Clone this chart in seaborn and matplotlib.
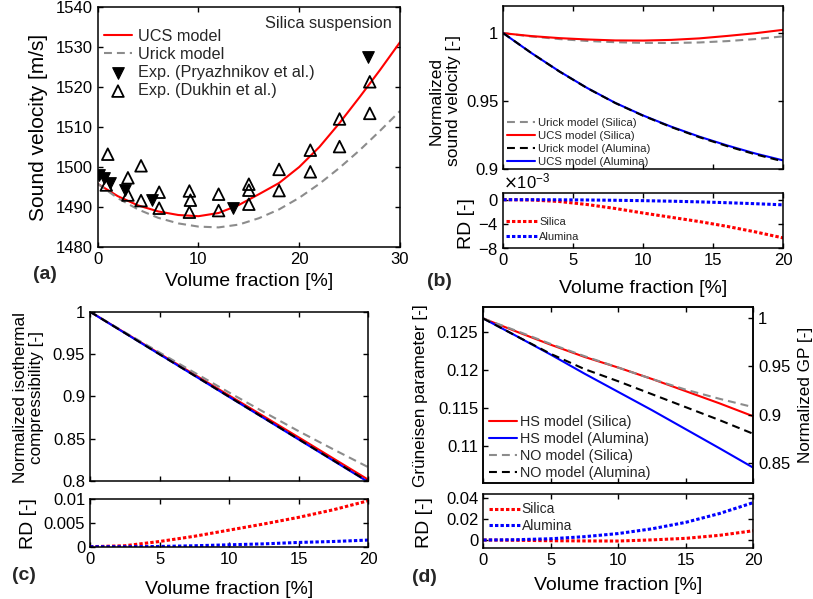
import numpy as np
import matplotlib.pyplot as plt
import matplotlib.ticker as ticker
import seaborn as sns

# ---- (a) sound velocity, silica suspension ----
phi_a = [0, 2, 4, 6, 8, 10, 12, 14, 16, 18, 20, 22, 24, 26, 28, 30]
ucs_a = [1495.8, 1492.7, 1490.4, 1488.9, 1488.0, 1487.7, 1488.5, 1490.5, 1493.2,
         1496.0, 1500.0, 1505.0, 1511.0, 1517.5, 1524.2, 1531.2]
urick_a = [1495.8, 1492.2, 1489.4, 1487.3, 1485.9, 1485.1, 1484.9, 1485.6, 1487.2,
           1489.4, 1492.3, 1495.8, 1499.8, 1504.2, 1509.0, 1514.0]
pry_phi = [0.1, 0.65, 1.2, 2.7, 5.35, 13.45, 26.85]
pry_c = [1498.0, 1497.2, 1496.1, 1494.2, 1491.7, 1489.7, 1527.6]
duk_phi = [1.0, 0.85, 3.0, 3.0, 4.3, 4.3, 6.1, 6.1, 9.1, 9.2, 9.1, 12.0, 12.0,
           15.0, 15.0, 15.0, 18.0, 18.0, 21.1, 21.1, 24.0, 24.0, 27.0, 27.0]
duk_c = [1503.2, 1495.5, 1497.3, 1493.0, 1500.3, 1491.6, 1493.7, 1489.7, 1494.0,
         1491.7, 1488.7, 1493.2, 1489.1, 1495.7, 1494.2, 1490.7, 1499.4, 1494.1,
         1504.2, 1498.8, 1512.0, 1505.1, 1521.3, 1513.4]

# ---- (b) normalized sound velocity ----
phi_b = [0, 2, 4, 6, 8, 10, 12, 14, 16, 18, 20]
urick_si_b = [1.0, 0.9976, 0.9957, 0.9943, 0.9934, 0.9929, 0.9928, 0.9932, 0.9942, 0.9957, 0.9977]
ucs_si_b = [1.0, 0.9979, 0.9964, 0.9954, 0.9947, 0.9946, 0.9951, 0.9962, 0.9980, 1.0000, 1.0025]
urick_al_b = [1.0, 0.9855, 0.9719, 0.9596, 0.9487, 0.9393, 0.9310, 0.9236, 0.9170, 0.9110, 0.9058]
ucs_al_b = [1.0, 0.9855, 0.9720, 0.9597, 0.9488, 0.9395, 0.9313, 0.9240, 0.9175, 0.9116, 0.9065]
rd_si_b = [0.0, -0.05, -0.3, -0.8, -1.45, -2.2, -2.9, -3.6, -4.4, -5.3, -6.3]   # x1e-3
rd_al_b = [0.0, 0.0, -0.02, -0.05, -0.1, -0.16, -0.25, -0.36, -0.5, -0.66, -0.85]

# ---- (c) normalized isothermal compressibility ----
phi_c = [0, 2.5, 5, 7.5, 10, 12.5, 15, 17.5, 20]
ucs_si_c = [1.0, 0.9752, 0.9505, 0.9258, 0.9010, 0.8763, 0.8515, 0.8265, 0.8015]
urick_si_c = [1.0, 0.9757, 0.9518, 0.9281, 0.9045, 0.8814, 0.8588, 0.8373, 0.8163]
ucs_al_c = [1.0, 0.9748, 0.9496, 0.9245, 0.8993, 0.8742, 0.8490, 0.8239, 0.7987]
urick_al_c = [1.0, 0.9749, 0.9497, 0.9246, 0.8995, 0.8744, 0.8493, 0.8242, 0.7991]
rd_si_c = [0.0, 0.0002, 0.0011, 0.0022, 0.0035, 0.0048, 0.0062, 0.0078, 0.0097]
rd_al_c = [0.0, 0.0, 0.00005, 0.0002, 0.0004, 0.0006, 0.0009, 0.0011, 0.0014]

# ---- (d) Grueneisen parameter ----
phi_d = [0, 2.5, 5, 7.5, 10, 12.5, 15, 17.5, 20]
hs_si_d = [0.12675, 0.1250, 0.1233, 0.1217, 0.1203, 0.1188, 0.1172, 0.1156, 0.1139]
hs_al_d = [0.12675, 0.1244, 0.1220, 0.1195, 0.1171, 0.1147, 0.1122, 0.1097, 0.10715]
no_si_d = [0.12675, 0.1251, 0.1234, 0.1218, 0.1203, 0.1188, 0.1174, 0.1162, 0.1151]
no_al_d = [0.12675, 0.1244, 0.1221, 0.1201, 0.1185, 0.1168, 0.1151, 0.1134, 0.1116]
gp0 = 0.1268
rd_si_d = [0.0, -0.0003, -0.0007, -0.0009, -0.001, 0.0001, 0.0016, 0.0045, 0.0089]
rd_al_d = [0.0, 0.0003, 0.0012, 0.0032, 0.0062, 0.0108, 0.017, 0.0255, 0.036]

sns.set_theme(style='ticks')
plt.rcParams['font.family'] = ['Liberation Sans', 'DejaVu Sans']
plt.rcParams.update({
    'xtick.direction': 'in', 'ytick.direction': 'in',
    'xtick.top': True, 'ytick.right': True,
    'xtick.major.size': 3.5, 'ytick.major.size': 3.5,
    'xtick.major.width': 1.0, 'ytick.major.width': 1.0,
    'xtick.labelsize': 12, 'ytick.labelsize': 12,
    'axes.linewidth': 1.1, 'axes.labelsize': 14,
    'axes.unicode_minus': False,
    'xtick.color': 'black', 'ytick.color': 'black',
    'axes.edgecolor': 'black', 'axes.labelcolor': 'black',
})

W, H = 813, 599
fig = plt.figure(figsize=(W / 100, H / 100), dpi=100)


def box(l, r, t, b):
    return fig.add_axes([l / W, 1 - b / H, (r - l) / W, (b - t) / H])


DASH = (0, (3.8, 2.4))
DOT = (0, (1.1, 0.7))
fmt_g = ticker.FuncFormatter(lambda v, p: '%g' % round(v, 6))


def line(ax, x, y, color, ls='-', lw=1.5, label=None):
    sns.lineplot(x=x, y=y, ax=ax, color=color, linestyle=ls, linewidth=lw,
                 label=label, errorbar=None, legend=False)


def dots(ax, x, y, color, label=None):
    sns.lineplot(x=x, y=y, ax=ax, color=color, linestyle=DOT, linewidth=2.2,
                 label=label, errorbar=None, legend=False)


# ---------------- (a) ----------------
ax = box(97.7, 400, 7, 247)
line(ax, phi_a, ucs_a, 'red', label='UCS model')
line(ax, phi_a, urick_a, '#8c8c8c', ls=DASH, label='Urick model')
sns.scatterplot(x=pry_phi, y=pry_c, ax=ax, marker='v', s=70, color='black',
                edgecolor='black', linewidth=0.8, label='Exp. (Pryazhnikov et al.)', zorder=3)
sns.scatterplot(x=duk_phi, y=duk_c, ax=ax, marker='^', s=70, facecolor='none',
                edgecolor='black', linewidth=1.3, label='Exp. (Dukhin et al.)', zorder=3)
ax.set_xlim(0, 30)
ax.set_ylim(1480, 1540)
ax.set_xticks([0, 10, 20, 30])
ax.set_yticks(range(1480, 1541, 10))
ax.set_xlabel('Volume fraction [%]')
ax.set_ylabel('Sound velocity [m/s]', fontsize=15)
ax.yaxis.set_label_coords(-0.164, 0.5)
ax.xaxis.set_label_coords(0.5, -0.11)
ax.legend(loc='upper left', bbox_to_anchor=(0.02, 0.91), frameon=False, fontsize=11.7,
          handlelength=1.75, handletextpad=0.35, labelspacing=0.2, borderpad=0, borderaxespad=0)
ax.text(0.973, 0.93, 'Silica suspension', transform=ax.transAxes, ha='right', va='center',
        fontsize=11.8)

# ---------------- (b) ----------------
ax = box(503.3, 783.3, 6, 169.3)
line(ax, phi_b, urick_si_b, '#8c8c8c', ls=DASH, label='Urick model (Silica)')
line(ax, phi_b, ucs_si_b, 'red', label='UCS model (Silica)')
line(ax, phi_b, ucs_al_b, 'blue', label='UCS model (Alumina)')
line(ax, phi_b, urick_al_b, 'black', ls=DASH, label='Urick model (Alumina)')
ax.set_xlim(0, 20)
ax.set_ylim(0.9, 1.02)
ax.set_xticks([0, 5, 10, 15, 20])
ax.set_yticks([0.9, 0.95, 1.0])
ax.yaxis.set_major_formatter(fmt_g)
ax.tick_params(labelbottom=False)
ax.set_ylabel('Normalized\nsound velocity [-]', fontsize=12.5, linespacing=1.2)
ax.yaxis.set_label_coords(-0.152, 0.42)
h, l = ax.get_legend_handles_labels()
order = [0, 1, 3, 2]
ax.legend([h[i] for i in order], [l[i] for i in order], loc='lower left',
          bbox_to_anchor=(0.012, 0.015), frameon=False, fontsize=8.2, handlelength=2.5,
          handletextpad=0.27, labelspacing=0.25, borderpad=0, borderaxespad=0)

ax = box(503.3, 783.3, 193, 248.3)
dots(ax, phi_b, np.array(rd_si_b) * 1e-3, 'red', label='Silica')
dots(ax, phi_b, np.array(rd_al_b) * 1e-3, 'blue', label='Alumina')
ax.set_xlim(0, 20)
ax.set_ylim(-8e-3, 1.1e-3)
ax.set_xticks([0, 5, 10, 15, 20])
ax.set_yticks([-8e-3, -4e-3, 0])
ax.ticklabel_format(style='sci', axis='y', scilimits=(0, 0), useMathText=True)
ax.yaxis.get_offset_text().set_fontsize(12)
ax.set_xlabel('Volume fraction [%]')
ax.set_ylabel('RD [-]')
ax.yaxis.set_label_coords(-0.101, 0.44)
ax.xaxis.set_label_coords(0.5, -0.57)
ax.legend(loc='upper left', bbox_to_anchor=(0.01, 0.56), frameon=False, fontsize=8,
          handlelength=2.8, handletextpad=0.2, labelspacing=0.4, borderpad=0, borderaxespad=0)

# ---------------- (c) ----------------
ax = box(90, 368.3, 311.7, 481)
line(ax, phi_c, ucs_si_c, 'red')
line(ax, phi_c, urick_si_c, '#8c8c8c', ls=DASH)
line(ax, phi_c, ucs_al_c, 'blue')
line(ax, phi_c, urick_al_c, 'black', ls=DASH)
ax.set_xlim(0, 20)
ax.set_ylim(0.8, 1.0)
ax.set_xticks([0, 5, 10, 15, 20])
ax.set_yticks([0.8, 0.85, 0.9, 0.95, 1.0])
ax.yaxis.set_major_formatter(fmt_g)
ax.tick_params(labelbottom=False)
ax.set_ylabel('Normalized isothermal\ncompressibility [-]', fontsize=12.3, linespacing=1.1)
ax.yaxis.set_label_coords(-0.165, 0.493)

ax = box(90, 368.3, 499.3, 546.7)
dots(ax, phi_c, rd_si_c, 'red')
dots(ax, phi_c, rd_al_c, 'blue')
ax.set_xlim(0, 20)
ax.set_ylim(0, 0.01)
ax.set_xticks([0, 5, 10, 15, 20])
ax.set_yticks([0, 0.005, 0.01])
ax.yaxis.set_major_formatter(fmt_g)
ax.set_xlabel('Volume fraction [%]')
ax.set_ylabel('RD [-]')
ax.yaxis.set_label_coords(-0.19, 0.49)
ax.xaxis.set_label_coords(0.5, -0.72)

# ---------------- (d) ----------------
ax = box(483.3, 753.3, 306.7, 483.3)
line(ax, phi_d, hs_si_d, 'red', label='HS model (Silica)')
line(ax, phi_d, hs_al_d, 'blue', label='HS model (Alumina)')
line(ax, phi_d, no_si_d, '#8c8c8c', ls=DASH, label='NO model (Silica)')
line(ax, phi_d, no_al_d, 'black', ls=DASH, label='NO model (Alumina)')
ax.set_xlim(0, 20)
ax.set_ylim(0.1051, 0.1283)
ax.set_xticks([0, 5, 10, 15, 20])
ax.set_yticks([0.11, 0.115, 0.12, 0.125])
ax.yaxis.set_major_formatter(fmt_g)
ax.tick_params(labelbottom=False, right=False)
ax.set_ylabel('Grüneisen parameter [-]', fontsize=12.3)
ax.yaxis.set_label_coords(-0.204, 0.494)
ax.legend(loc='lower left', bbox_to_anchor=(0.021, 0.02), frameon=False, fontsize=10.4,
          handlelength=1.95, handletextpad=0.23, labelspacing=0.2, borderpad=0, borderaxespad=0)
axr = ax.twinx()
axr.set_ylim(0.1051 / gp0, 0.1283 / gp0)
axr.set_yticks([0.85, 0.9, 0.95, 1.0])
axr.yaxis.set_major_formatter(fmt_g)
axr.tick_params(axis='y', direction='in', right=True, left=False)
axr.set_ylabel('Normalized GP [-]', fontsize=12.3)
axr.yaxis.set_label_coords(1.166, 0.5)
axr.grid(False)

ax = box(483.3, 753.3, 494.3, 548.3)
dots(ax, phi_d, rd_si_d, 'red', label='Silica')
dots(ax, phi_d, rd_al_d, 'blue', label='Alumina')
ax.set_xlim(0, 20)
ax.set_ylim(-0.008, 0.044)
ax.set_xticks([0, 5, 10, 15, 20])
ax.set_yticks([0, 0.02, 0.04])
ax.yaxis.set_major_formatter(fmt_g)
ax.set_xlabel('Volume fraction [%]')
ax.set_ylabel('RD [-]')
ax.yaxis.set_label_coords(-0.185, 0.47)
ax.xaxis.set_label_coords(0.5, -0.54)
ax.legend(loc='upper left', bbox_to_anchor=(0.021, 0.85), frameon=False, fontsize=10,
          handlelength=2.2, handletextpad=0.15, labelspacing=0.2, borderpad=0, borderaxespad=0)

# panel letters
for txt, x, y in [('(a)', 33, 275), ('(b)', 427, 281), ('(c)', 12, 575), ('(d)', 412, 577)]:
    fig.text(x / W, 1 - y / H, txt, fontsize=14, fontweight='bold', ha='left', va='center')

fig.savefig('out.png', dpi=100)
